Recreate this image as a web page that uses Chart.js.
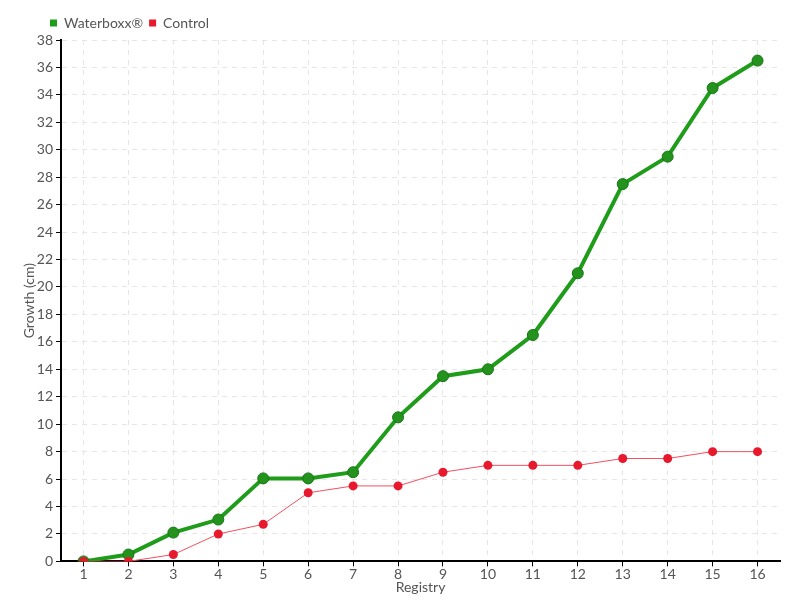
<!DOCTYPE html>
<html>
<head>
<meta charset="utf-8">
<script src="https://cdn.jsdelivr.net/npm/chart.js@4"></script>
<style>
  html, body { margin: 0; padding: 0; background: #fff; }
  #wrap { width: 800px; height: 600px; }
</style>
</head>
<body>
<div id="wrap"><canvas id="lineChart" width="800" height="600"></canvas></div>
<script>
const registros = ['1', '2', '3', '4', '5', '6', '7', '8', '9', '10', '11', '12', '13', '14', '15', '16'];
const waterboxx = [0, 0.5, 2.1, 3.05, 6.05, 6.05, 6.5, 10.5, 13.5, 14, 16.5, 21, 27.5, 29.5, 34.5, 36.5];
const control = [0, 0, 0.5, 2, 2.7, 5, 5.5, 5.5, 6.5, 7, 7, 7, 7.5, 7.5, 8, 8];

Chart.defaults.font.family = 'Lato, "Liberation Sans Narrow", sans-serif';
Chart.defaults.font.size = 14;
Chart.defaults.color = '#555';

const gridStyle = {
    color: '#e6e6e6',
    tickColor: '#000',
    tickLength: 5,
    drawTicks: true
};
const borderStyle = { color: '#000', width: 2, dash: [5, 5] };

// mover la leyenda un poco a la derecha
const moverLeyenda = {
    id: 'moverLeyenda',
    afterLayout(chart) {
        chart.legend.left += 37;
        chart.legend.right += 37;
    }
};

new Chart(document.getElementById('lineChart').getContext('2d'), {
    type: 'line',
    data: {
        labels: registros,
        datasets: [
            {
                label: 'Waterboxx®',
                data: waterboxx,
                order: 1,
                borderColor: '#1f9c1a',
                backgroundColor: '#1f9c1a',
                borderWidth: 4,
                pointRadius: 5.5,
                pointBackgroundColor: '#23931d',
                pointBorderColor: '#187515',
                pointBorderWidth: 1,
                tension: 0,
                fill: false
            },
            {
                label: 'Control',
                data: control,
                order: 0,
                borderColor: '#f25060',
                backgroundColor: '#e8192c',
                borderWidth: 1,
                pointRadius: 4.5,
                pointBackgroundColor: '#e8192c',
                pointBorderColor: '#e8192c',
                pointBorderWidth: 0,
                tension: 0,
                fill: false
            }
        ]
    },
    plugins: [moverLeyenda],
    options: {
        responsive: false,
        animation: false,
        layout: { padding: { left: 7, right: 20, top: 10, bottom: 4 } },
        plugins: {
            legend: {
                position: 'top',
                align: 'start',
                labels: {
                    boxWidth: 7,
                    boxHeight: 7,
                    padding: 6,
                    color: '#555',
                    font: { size: 14 },
                    generateLabels: function (chart) {
                        return chart.data.datasets.map((ds, i) => ({
                            text: ds.label,
                            fillStyle: ds.backgroundColor,
                            strokeStyle: ds.backgroundColor,
                            lineWidth: 0,
                            datasetIndex: i,
                            fontColor: '#555'
                        }));
                    }
                }
            },
            tooltip: { enabled: false }
        },
        scales: {
            x: {
                offset: true,
                grid: Object.assign({ offset: false }, gridStyle),
                border: borderStyle,
                ticks: { padding: 0, maxRotation: 0 },
                title: { display: true, text: 'Registry', padding: { top: -4, bottom: 0 } }
            },
            y: {
                min: 0,
                max: 38,
                grid: gridStyle,
                border: borderStyle,
                ticks: { stepSize: 2, padding: 3 },
                title: { display: true, text: 'Growth (cm)', padding: { top: 14, bottom: -4 } }
            }
        }
    }
});
</script>
</body>
</html>
